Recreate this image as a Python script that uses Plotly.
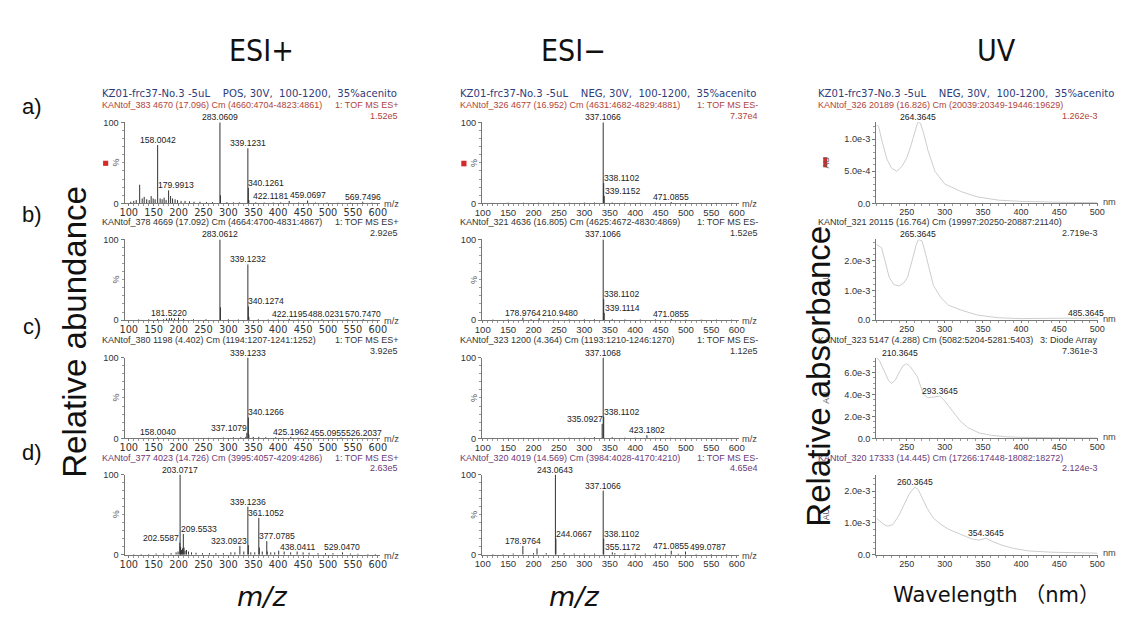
import numpy as np
import plotly.graph_objects as go

W, H = 1126, 618
SANS = "Liberation Sans, Arial, Helvetica, sans-serif"
DEJA = "DejaVu Sans, Verdana, sans-serif"
BIG = "Liberation Sans Narrow, DejaVu Sans Condensed, Liberation Sans, sans-serif"

# ====================== DATA ======================
column_titles = ["ESI+", "ESI\u2212", "UV"]
row_labels = ["a)", "b)", "c)", "d)"]
y_titles = ["Relative abundance", "Relative absorbance"]
x_titles = ["<i>m/z</i>", "<i>m/z</i>", "Wavelength （nm）"]

sample_pos = "KZ01-frc37-No.3 -5uL\u00a0\u00a0\u00a0 POS, 30V, \u00a0100-1200, \u00a035%acenito"
sample_neg = "KZ01-frc37-No.3 -5uL\u00a0\u00a0\u00a0 NEG, 30V, \u00a0100-1200, \u00a035%acenito"

pos_headers = ["KANtof_383 4670 (17.096) Cm (4660:4704-4823:4861)",
               "KANtof_378 4669 (17.092) Cm (4664:4700-4831:4867)",
               "KANtof_380 1198 (4.402) Cm (1194:1207-1241:1252)",
               "KANtof_377 4023 (14.726) Cm (3995:4057-4209:4286)"]
pos_function = "1: TOF MS ES+"
pos_max = ["1.52e5", "2.92e5", "3.92e5", "2.63e5"]

neg_headers = ["KANtof_326 4677 (16.952) Cm (4631:4682-4829:4881)",
               "KANtof_321 4636 (16.805) Cm (4625:4672-4830:4869)",
               "KANtof_323 1200 (4.364) Cm (1193:1210-1246:1270)",
               "KANtof_320 4019 (14.569) Cm (3984:4028-4170:4210)"]
neg_function = "1: TOF MS ES-"
neg_max = ["7.37e4", "1.52e5", "1.12e5", "4.65e4"]

uv_headers = ["KANtof_326 20189 (16.826) Cm (20039:20349-19446:19629)",
              "KANtof_321 20115 (16.764) Cm (19997:20250-20887:21140)",
              "KANtof_323 5147 (4.288) Cm (5082:5204-5281:5403)",
              "KANtof_320 17333 (14.445) Cm (17266:17448-18082:18272)"]
uv_function = ["", "", "3: Diode Array", ""]
uv_max = ["1.262e-3", "2.719e-3", "7.361e-3", "2.124e-3"]

# ---- ESI+ : labelled peaks (m/z, % intensity) and unlabelled small peaks ----
pos_a_mz = [158.0042, 179.9913, 283.0609, 339.1231, 340.1261, 422.1181, 459.0697, 569.7496]
pos_a_int = [72, 16, 100, 68, 19, 3, 3.5, 2]
pos_a_small_mz = [104, 110, 115, 121.9, 127, 131, 136, 141, 145, 149, 153, 163, 167, 171, 175, 184,
                  188, 193, 198, 205, 213, 222, 231, 243, 256, 268, 284.06, 297, 310, 322, 341.1,
                  355, 372, 390, 405, 441, 475, 498, 520, 545, 588]
pos_a_small_int = [2, 3, 4, 23, 6, 8, 5, 4, 9, 6, 5, 6, 5, 7, 4, 9, 6, 5, 4, 3, 3, 2.5, 2, 2, 1.5,
                   1.5, 10, 1.5, 1.2, 1.2, 4, 1.2, 1, 1, 1.2, 1, 1, 1, 0.8, 0.8, 0.8]

pos_b_mz = [181.5220, 283.0612, 339.1232, 340.1274, 422.1195, 488.0231, 570.7470]
pos_b_int = [2.5, 100, 69, 17, 1.5, 1, 1.2]
pos_b_small_mz = [120, 140, 158, 170, 176, 186, 192, 200, 210, 230, 255, 284.06, 300, 320, 341.1,
                  360, 380, 400, 440, 465, 510, 540, 590]
pos_b_small_int = [0.8, 1, 1.5, 1, 2, 2.5, 2, 3, 1.5, 1, 1, 16, 1, 0.8, 4, 1, 0.8, 0.8, 0.8, 0.8,
                   0.6, 0.6, 0.6]

pos_c_mz = [158.0040, 337.1079, 339.1233, 340.1266, 425.1962, 455.0955, 526.2037]
pos_c_int = [1.5, 7, 100, 26, 2, 1.2, 1.2]
pos_c_small_mz = [120, 140, 175, 200, 230, 260, 290, 310, 325, 335, 341.1, 350, 361, 375, 395,
                  410, 440, 470, 500, 560, 590]
pos_c_small_int = [0.6, 0.8, 0.8, 0.8, 0.8, 0.8, 1.2, 1.5, 1.5, 2, 5, 2, 2, 1.5, 1.5, 1, 1, 0.8,
                   0.8, 0.6, 0.6]

pos_d_mz = [202.5587, 203.0717, 209.5533, 323.0923, 339.1236, 361.1052, 377.0785, 438.0411, 529.0470]
pos_d_int = [15, 100, 26, 11, 60, 46, 17, 4, 3]
pos_d_small_mz = [110, 125, 140, 155, 170, 185, 195, 199, 204.07, 206, 208, 211, 213, 216, 220, 226,
                  235, 248, 262, 275, 290, 305, 313, 331, 340.1, 345, 353, 362.1, 368, 378.1, 385,
                  393, 401, 412, 425, 450, 462, 480, 495, 510, 545, 560, 580, 595]
pos_d_small_int = [0.8, 1, 1, 1.5, 1.5, 2, 3, 4, 10, 6, 8, 9, 5, 6, 4, 3, 2.5, 2, 2, 2, 2, 3, 3, 4,
                   12, 3, 3, 9, 4, 4, 3, 3, 5, 4, 3, 3, 2.5, 2, 2, 2, 1.5, 1.2, 1, 1]

# ---- ESI- ----
neg_a_mz = [337.1066, 338.1102, 339.1152, 471.0855]
neg_a_int = [100, 25, 9, 1.5]
neg_a_small_mz = [120, 150, 180, 210, 240, 270, 300, 320, 355, 380, 410, 440, 500, 530, 560, 590]
neg_a_small_int = [0.6, 0.8, 0.8, 0.8, 0.8, 0.8, 1, 1, 1, 0.8, 0.8, 0.8, 0.6, 0.6, 0.6, 0.6]

neg_b_mz = [178.9764, 210.9480, 337.1066, 338.1102, 339.1114, 471.0855]
neg_b_int = [3, 2.5, 100, 26, 9, 1.5]
neg_b_small_mz = [120, 150, 195, 240, 270, 300, 320, 355, 380, 410, 440, 500, 530, 560, 590]
neg_b_small_int = [0.6, 0.8, 1, 0.8, 0.8, 1, 1, 1, 0.8, 0.8, 0.8, 0.6, 0.6, 0.6, 0.6]

neg_c_mz = [335.0927, 337.1068, 338.1102, 423.1802]
neg_c_int = [18, 100, 27, 4]
neg_c_small_mz = [120, 150, 180, 210, 240, 270, 300, 320, 355, 380, 400, 440, 470, 500, 530, 560, 590]
neg_c_small_int = [0.6, 0.8, 0.8, 0.8, 0.8, 1, 1, 1.5, 1.5, 1, 1, 0.8, 0.8, 0.8, 0.6, 0.6, 0.6]

neg_d_mz = [178.9764, 243.0643, 244.0667, 337.1066, 338.1102, 355.1172, 471.0855, 499.0787]
neg_d_int = [11, 100, 20, 80, 20, 3, 5, 4]
neg_d_small_mz = [120, 140, 160, 200, 206.8, 225, 260, 280, 300, 320, 360, 380, 400, 420, 440,
                  460, 485, 520, 550, 580]
neg_d_small_int = [1, 1, 1.5, 2, 8, 2, 2, 1.5, 1.5, 1.5, 2, 1.5, 1.5, 1.5, 1.2, 1.2, 1.2, 1, 1, 0.8]

# ---- UV spectra (wavelength nm, absorbance AU) ----
uv_a_nm = [210, 213, 218, 224, 230, 237, 244, 250, 255, 260, 264.3645, 268, 272, 278, 287, 300,
           322, 343, 370, 400, 430, 460, 500]
uv_a_abs = [1.22e-3, 1.20e-3, 0.95e-3, 0.69e-3, 0.55e-3, 0.50e-3, 0.58e-3, 0.71e-3, 0.88e-3,
            1.10e-3, 1.262e-3, 1.25e-3, 1.10e-3, 0.82e-3, 0.50e-3, 0.30e-3, 0.18e-3, 0.10e-3,
            0.05e-3, 0.03e-3, 0.02e-3, 0.015e-3, 0.01e-3]
uv_a_peaks = [264.3645]

uv_b_nm = [210, 217, 222, 227, 233, 240, 246, 251, 258, 262, 265.3645, 270, 275, 280, 285, 295,
           305, 322, 343, 370, 400, 430, 460, 485.3645, 500]
uv_b_abs = [2.55e-3, 2.44e-3, 1.95e-3, 1.44e-3, 1.20e-3, 1.15e-3, 1.25e-3, 1.44e-3, 2.10e-3,
            2.50e-3, 2.719e-3, 2.67e-3, 2.20e-3, 1.70e-3, 1.17e-3, 0.75e-3, 0.50e-3, 0.33e-3,
            0.17e-3, 0.08e-3, 0.05e-3, 0.06e-3, 0.07e-3, 0.08e-3, 0.07e-3]
uv_b_peaks = [265.3645, 485.3645]

uv_c_nm = [210.3645, 214, 218, 222, 226, 230, 235, 240, 245, 250, 255, 260, 264, 268, 272, 278,
           285, 293.3645, 300, 310, 320, 330, 345, 360, 380, 400, 450, 500]
uv_c_abs = [7.361e-3, 7.1e-3, 6.5e-3, 5.9e-3, 5.3e-3, 5.0e-3, 5.3e-3, 6.0e-3, 6.6e-3, 6.8e-3,
            6.5e-3, 6.0e-3, 5.6e-3, 4.8e-3, 4.0e-3, 3.7e-3, 3.75e-3, 3.85e-3, 3.4e-3, 2.5e-3,
            1.6e-3, 1.0e-3, 0.5e-3, 0.3e-3, 0.15e-3, 0.1e-3, 0.05e-3, 0.04e-3]
uv_c_peaks = [210.3645, 293.3645]

uv_d_nm = [210, 215, 220, 225, 232, 240, 247, 253, 260.3645, 265, 270, 277, 285, 295, 305, 320,
           335, 345, 354.3645, 362, 375, 390, 410, 440, 470, 500]
uv_d_abs = [1.15e-3, 1.05e-3, 0.95e-3, 0.90e-3, 0.95e-3, 1.25e-3, 1.60e-3, 1.90e-3, 2.124e-3,
            2.05e-3, 1.80e-3, 1.45e-3, 1.15e-3, 0.95e-3, 0.80e-3, 0.65e-3, 0.50e-3, 0.46e-3,
            0.52e-3, 0.42e-3, 0.30e-3, 0.20e-3, 0.12e-3, 0.08e-3, 0.06e-3, 0.05e-3]
uv_d_peaks = [260.3645, 354.3645]

uv_ytop = [1.262e-3, 2.719e-3, 7.361e-3, 2.52e-3]
uv_yticks = [[0, 5e-4, 1e-3], [0, 1e-3, 2e-3], [0, 2e-3, 4e-3, 6e-3], [0, 1e-3, 2e-3]]
uv_yticktext = [["0.0", "5.0e-4", "1.0e-3"], ["0.0", "1.0e-3", "2.0e-3"],
                ["0.0", "2.0e-3", "4.0e-3", "6.0e-3"], ["0.0", "1.0e-3", "2.0e-3"]]
uv_yminor = [1e-4, 2e-4, 5e-4, 2e-4]
esi_xticks = [100, 150, 200, 250, 300, 350, 400, 450, 500, 550, 600]
uv_xticks = [250, 300, 350, 400, 450, 500]

# ====================== LAYOUT CONSTANTS (pixels) ======================
COL_PX = [(119.0, 378.0), (481.0, 741.0), (880.2, 1105.0)]
COL_RANGE = [(91.5, 605.0), (98.6, 604.0), (210.0, 501.3)]
ROW_PX = [(119.3, 201.6), (238.3, 320.3), (358.3, 440.6), (477.3, 558.8)]
RIGHT_EDGE = [397.0, 761.0, 1106.0]
LEFT_TEXT = [95.5, 457.5, 820.5]
ROW_HEAD_COL = ["#b0443a", "#333333", "#333333", "#6b3a78"]
NAVY = "#2f3b7a"
LABEL_FS = 8.6
HEAD_FS = 9.0
GAP = 2.0


def px(x):
    return x / W


def py(y):
    return 1 - y / H


annotations = []
shapes = []


def txt(x, y, text, size, color="#222", xanchor="center", yanchor="middle", family=SANS, angle=0):
    annotations.append(dict(x=px(x), y=py(y), xref="paper", yref="paper", text=text,
                            showarrow=False, xanchor=xanchor, yanchor=yanchor, textangle=angle,
                            borderpad=0,
                            font=dict(size=size, color=color, family=family)))


def label_width(s, fs):
    return sum(0.278 if ch == "." else 0.556 for ch in s) * fs


def place_labels(cands, obst_x, obst_h, xmin):
    """Greedy label placement: avoid taller sticks and earlier labels (pixel space)."""
    lh = LABEL_FS * 1.05
    placed = []
    shifts = [0.0] * len(cands)
    order = sorted(range(len(cands)), key=lambda i: -cands[i][1])
    for i in order:
        cx, hp, w = cands[i]
        b = hp + GAP
        t = b + lh
        best = 0.0
        found = False
        for step in range(0, 200):
            trial = [0.0] if step == 0 else [step * 0.5, -step * 0.5]
            for s in trial:
                x0, x1 = cx - w / 2 + s, cx + w / 2 + s
                if x0 < xmin:
                    continue
                ok = True
                for sx, sh in zip(obst_x, obst_h):
                    if x0 - 0.5 < sx < x1 + 0.5 and sh > b:
                        ok = False
                        break
                if ok:
                    for (p0, p1, pb, pt) in placed:
                        if x0 < p1 + 1 and x1 > p0 - 1 and b < pt and t > pb:
                            ok = False
                            break
                if ok:
                    best, found = s, True
                    break
            if found:
                break
        shifts[i] = best
        placed.append((cx - w / 2 + best, cx + w / 2 + best, b, t))
    return shifts


fig = go.Figure()

esi_data = [
    [(pos_a_mz, pos_a_int, pos_a_small_mz, pos_a_small_int),
     (pos_b_mz, pos_b_int, pos_b_small_mz, pos_b_small_int),
     (pos_c_mz, pos_c_int, pos_c_small_mz, pos_c_small_int),
     (pos_d_mz, pos_d_int, pos_d_small_mz, pos_d_small_int)],
    [(neg_a_mz, neg_a_int, neg_a_small_mz, neg_a_small_int),
     (neg_b_mz, neg_b_int, neg_b_small_mz, neg_b_small_int),
     (neg_c_mz, neg_c_int, neg_c_small_mz, neg_c_small_int),
     (neg_d_mz, neg_d_int, neg_d_small_mz, neg_d_small_int)],
]
uv_data = [(uv_a_nm, uv_a_abs, uv_a_peaks), (uv_b_nm, uv_b_abs, uv_b_peaks),
           (uv_c_nm, uv_c_abs, uv_c_peaks), (uv_d_nm, uv_d_abs, uv_d_peaks)]

layout_axes = {}

for r in range(4):
    ytop_px, ybot_px = ROW_PX[r]
    head_y = ytop_px - 17.3
    for c in range(3):
        k = r * 3 + c + 1
        xr = "x" if k == 1 else f"x{k}"
        yr = "y" if k == 1 else f"y{k}"
        xkey = "xaxis" if k == 1 else f"xaxis{k}"
        ykey = "yaxis" if k == 1 else f"yaxis{k}"
        x0p, x1p = COL_PX[c]
        r0, r1 = COL_RANGE[c]

        def xpix(v):
            return x0p + (v - r0) / (r1 - r0) * (x1p - x0p)

        ymax = 100.0 if c < 2 else uv_ytop[r]

        def hpix(v):
            return v / ymax * (ybot_px - ytop_px)

        xaxis = dict(domain=[px(x0p), px(x1p)], range=[r0, r1], anchor=yr,
                     showline=True, linecolor="#777", linewidth=1, showgrid=False, zeroline=False,
                     ticks="outside", ticklen=2, tickcolor="#777", tickwidth=1,
                     ticklabelstandoff=-2,
                     minor=dict(dtick=10, ticklen=2, tickcolor="#999", ticks="outside"))
        yaxis = dict(domain=[py(ybot_px), py(ytop_px)], range=[0, ymax], anchor=xr,
                     showline=True, linecolor="#777", linewidth=1, showgrid=False, zeroline=False,
                     ticks="outside", ticklen=3, tickcolor="#777", tickwidth=1)

        if c < 2:
            mz, inten, smz, sint = esi_data[c][r]
            xs, ys = [], []
            for m, v in zip(list(mz) + list(smz), list(inten) + list(sint)):
                xs += [m, m, None]
                ys += [0, v, None]
            fig.add_trace(go.Scatter(x=xs, y=ys, mode="lines", xaxis=xr, yaxis=yr,
                                     line=dict(color="#333333", width=1), hoverinfo="skip"))
            xaxis.update(tickmode="array", tickvals=esi_xticks,
                         tickfont=dict(size=9.8 if c == 0 else 9.6, color="#333",
                                       family=DEJA if c == 0 else SANS))
            yaxis.update(tickmode="array", tickvals=[0, 100], ticktext=["0", "100"],
                         tickfont=dict(size=9.2, color="#333", family=SANS),
                         minor=dict(dtick=10, ticklen=2, tickcolor="#999", ticks="outside"))
            texts = [f"{m:.4f}" for m in mz]
            cands = [(xpix(m), hpix(v), label_width(t, LABEL_FS)) for m, v, t in zip(mz, inten, texts)]
            ox = [xpix(m) for m in list(mz) + list(smz)]
            oh = [hpix(v) for v in list(inten) + list(sint)]
            shifts = place_labels(cands, ox, oh, x0p + 4)
            for m, v, t, s in zip(mz, inten, texts, shifts):
                annotations.append(dict(x=m, y=v, xref=xr, yref=yr, text=t, showarrow=False,
                                        xanchor="center", yanchor="bottom", xshift=s, yshift=-1,
                                        borderpad=0,
                                        font=dict(size=LABEL_FS, color="#222", family=SANS)))
            hdr = (pos_headers if c == 0 else neg_headers)[r]
            fn = pos_function if c == 0 else neg_function
            mx = (pos_max if c == 0 else neg_max)[r]
            txt(LEFT_TEXT[c], head_y, hdr, HEAD_FS, ROW_HEAD_COL[r], xanchor="left")
            txt(RIGHT_EDGE[c], head_y, fn, HEAD_FS, ROW_HEAD_COL[r], xanchor="right")
            txt(RIGHT_EDGE[c], ytop_px - 6.3, mx, HEAD_FS, ROW_HEAD_COL[r], xanchor="right")
            txt(x0p - 9 if c == 0 else x0p - 8, (ytop_px + ybot_px) / 2, "%", 9, "#555", angle=-90)
            txt(x1p + 2.5, ybot_px + 1.0, "m/z", 9.2, "#444", xanchor="left")
        else:
            nm, ab, pk = uv_data[r]
            fig.add_trace(go.Scatter(x=nm, y=ab, mode="lines", xaxis=xr, yaxis=yr,
                                     line=dict(color="#cdcdcd", width=1), hoverinfo="skip"))
            xaxis.update(tickmode="array", tickvals=uv_xticks,
                         tickfont=dict(size=9, color="#333", family=SANS))
            yaxis.update(tickmode="array", tickvals=uv_yticks[r], ticktext=uv_yticktext[r],
                         tickfont=dict(size=9.2, color="#333", family=SANS),
                         minor=dict(dtick=uv_yminor[r], ticklen=2, tickcolor="#999", ticks="outside"))
            vals = [float(np.interp(p, nm, ab)) for p in pk]
            texts = [f"{p:.4f}" for p in pk]
            cands = [(xpix(p), hpix(v), label_width(t, LABEL_FS)) for p, v, t in zip(pk, vals, texts)]
            ox = [xpix(w) for w in nm]
            oh = [hpix(v) for v in ab]
            shifts = place_labels(cands, ox, oh, x0p + 5)
            for p, v, t, s in zip(pk, vals, texts, shifts):
                annotations.append(dict(x=p, y=v, xref=xr, yref=yr, text=t, showarrow=False,
                                        xanchor="center", yanchor="bottom", xshift=s, yshift=-1,
                                        borderpad=0,
                                        font=dict(size=LABEL_FS, color="#222", family=SANS)))
            txt(LEFT_TEXT[c], head_y, uv_headers[r], HEAD_FS, ROW_HEAD_COL[r], xanchor="left")
            if uv_function[r]:
                txt(RIGHT_EDGE[c], head_y, uv_function[r], HEAD_FS, "#333", xanchor="right")
            txt(RIGHT_EDGE[c], ytop_px - 6.3, uv_max[r], HEAD_FS, ROW_HEAD_COL[r], xanchor="right")
            txt(829, (ytop_px + ybot_px) / 2, "AU", 8.5, "#555", angle=-90)
            txt(x1p + 4, ybot_px - 1.5, "nm", 9.2, "#444", xanchor="left")

        layout_axes[xkey] = xaxis
        layout_axes[ykey] = yaxis

# sample description lines (row a)
txt(LEFT_TEXT[0], 90, sample_pos, 10.1, NAVY, xanchor="left", family=DEJA)
txt(LEFT_TEXT[1], 90, sample_neg, 10.1, NAVY, xanchor="left", family=DEJA)
txt(LEFT_TEXT[2], 90, sample_neg, 10.1, NAVY, xanchor="left", family=DEJA)

# red markers in row a
for (xa, xb, ya, yb) in [(97.3, 102.5, 158.3, 163.5), (460.0, 465.3, 158.3, 164.0), (826.5, 830.5, 155.0, 165.0)]:
    shapes.append(dict(type="rect", xref="paper", yref="paper", x0=px(xa), x1=px(xb),
                       y0=py(yb), y1=py(ya), fillcolor="#d42a2a", line=dict(width=0)))

# big titles
for t, x in zip(column_titles, [258, 574, 1002]):
    txt(x, 46, t, 30, "#111", family=BIG)
for t, y in zip(row_labels, [103, 213, 327, 455]):
    txt(25, y, t, 22, "#111")
txt(68, 332, y_titles[0], 33, "#111", angle=-90)
txt(822, 377, y_titles[1], 33, "#111", angle=-90)
txt(258, 601, x_titles[0], 27, "#111", family=DEJA)
txt(574, 601, x_titles[1], 27, "#111", family=DEJA)
txt(1002, 600, x_titles[2], 21, "#111", family="DejaVu Sans, Noto Sans CJK JP, sans-serif")

fig.update_layout(width=W, height=H, margin=dict(l=0, r=0, t=0, b=0),
                  paper_bgcolor="white", plot_bgcolor="white", showlegend=False,
                  annotations=annotations, shapes=shapes, **layout_axes)

fig.write_html("out.html")
